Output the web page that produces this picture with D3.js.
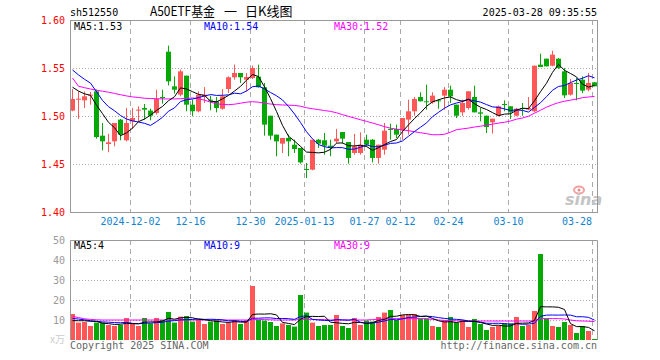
<!DOCTYPE html>
<html>
<head>
<meta charset="utf-8">
<script src="https://cdn.jsdelivr.net/npm/d3@7"></script>
<style>
  body { margin: 0; background: #fff; }
  text { font-family: "DejaVu Sans Mono", monospace; font-size: 10px; }
</style>
</head>
<body>
<script>
// Size of the whole picture
let width = 660;
let height = 360;

let svg = d3.select("body")
            .append("svg")
            .attr("width", width)
            .attr("height", height);

// Colors
let up_color = "#ff5757";
let down_color = "#06a806";
let border_color = "#999999";
let grid_color = "#aaaaaa";
let ma5_color = "#000000";
let ma10_color = "#0000ff";
let ma30_color = "#ff00ff";
let date_color = "#1283d0";

// Trading days
const dates = [
  "2024-11-18","2024-11-19","2024-11-20","2024-11-21","2024-11-22","2024-11-25","2024-11-26","2024-11-27","2024-11-28","2024-11-29",
  "2024-12-02","2024-12-03","2024-12-04","2024-12-05","2024-12-06","2024-12-09","2024-12-10","2024-12-11","2024-12-12","2024-12-13",
  "2024-12-16","2024-12-17","2024-12-18","2024-12-19","2024-12-20","2024-12-23","2024-12-24","2024-12-25","2024-12-26","2024-12-27",
  "2024-12-30","2024-12-31","2025-01-02","2025-01-03","2025-01-06","2025-01-07","2025-01-08","2025-01-09","2025-01-10","2025-01-13",
  "2025-01-14","2025-01-15","2025-01-16","2025-01-17","2025-01-20","2025-01-21","2025-01-22","2025-01-23","2025-01-24","2025-01-27",
  "2025-02-05","2025-02-06","2025-02-07","2025-02-10","2025-02-11","2025-02-12","2025-02-13","2025-02-14","2025-02-17","2025-02-18",
  "2025-02-19","2025-02-20","2025-02-21","2025-02-24","2025-02-25","2025-02-26","2025-02-27","2025-02-28","2025-03-03","2025-03-04",
  "2025-03-05","2025-03-06","2025-03-07","2025-03-10","2025-03-11","2025-03-12","2025-03-13","2025-03-14","2025-03-17","2025-03-18",
  "2025-03-19","2025-03-20","2025-03-21","2025-03-24","2025-03-25","2025-03-26","2025-03-27","2025-03-28"
];

const open = [
  1.5056,1.5170,1.5163,1.5212,1.5257,1.4795,1.4708,1.4736,1.4962,1.4747,
  1.4944,1.5059,1.5083,1.5056,1.5031,1.5198,1.5670,1.5309,1.5222,1.5420,
  1.5118,1.5049,1.5205,1.5170,1.5153,1.5076,1.5281,1.5403,1.5448,1.5378,
  1.5396,1.5410,1.5299,1.5003,1.4806,1.4712,1.4771,1.4701,1.4667,1.4448,
  1.4441,1.4753,1.4747,1.4691,1.4736,1.4833,1.4729,1.4615,1.4615,1.4753,
  1.4753,1.4563,1.4649,1.4865,1.4865,1.4851,1.4962,1.5049,1.5198,1.5153,
  1.5142,1.5163,1.5212,1.5274,1.5118,1.5038,1.5083,1.5198,1.5038,1.5003,
  1.4934,1.5003,1.5125,1.5101,1.5003,1.5083,1.5066,1.5049,1.5535,1.5597,
  1.5524,1.5597,1.5465,1.5222,1.5344,1.5378,1.5274,1.5351
];

const high = [
  1.5280,1.5257,1.5257,1.5250,1.5274,1.4927,1.4813,1.4927,1.4969,1.5083,
  1.5083,1.5101,1.5125,1.5076,1.5274,1.5274,1.5733,1.5413,1.5483,1.5420,
  1.5170,1.5257,1.5302,1.5212,1.5198,1.5281,1.5413,1.5535,1.5448,1.5448,
  1.5524,1.5535,1.5344,1.5003,1.4806,1.4771,1.4806,1.4753,1.4667,1.4510,
  1.4753,1.4760,1.4823,1.4753,1.4865,1.4833,1.4729,1.4813,1.4830,1.4806,
  1.4760,1.4701,1.4927,1.4920,1.4910,1.4979,1.5170,1.5198,1.5247,1.5326,
  1.5247,1.5177,1.5302,1.5316,1.5118,1.5170,1.5257,1.5316,1.5083,1.5003,
  1.4972,1.5108,1.5163,1.5101,1.5083,1.5135,1.5198,1.5524,1.5649,1.5597,
  1.5681,1.5604,1.5500,1.5385,1.5396,1.5413,1.5448,1.5351
];

const low = [
  1.5049,1.4969,1.5083,1.5118,1.4764,1.4642,1.4622,1.4684,1.4747,1.4736,
  1.4865,1.4944,1.4962,1.4955,1.5014,1.5128,1.5319,1.5233,1.5205,1.5049,
  1.4997,1.5038,1.5135,1.5059,1.5038,1.5066,1.5240,1.5378,1.5344,1.5257,
  1.5385,1.5295,1.4795,1.4753,1.4580,1.4615,1.4580,1.4615,1.4503,1.4354,
  1.4434,1.4667,1.4597,1.4580,1.4719,1.4712,1.4503,1.4597,1.4597,1.4677,
  1.4517,1.4503,1.4597,1.4753,1.4771,1.4753,1.4806,1.5003,1.5153,1.5066,
  1.5128,1.5076,1.5066,1.5135,1.4979,1.5003,1.5066,1.5038,1.4944,1.4823,
  1.4816,1.4997,1.5049,1.4969,1.4997,1.5003,1.5059,1.5038,1.5510,1.5517,
  1.5517,1.5490,1.5188,1.5212,1.5163,1.5240,1.5257,1.5309
];

const close = [
  1.5177,1.5180,1.5205,1.5222,1.4781,1.4736,1.4726,1.4927,1.4806,1.4927,
  1.4979,1.5066,1.5066,1.5003,1.5177,1.5188,1.5361,1.5274,1.5465,1.5118,
  1.5049,1.5222,1.5222,1.5160,1.5083,1.5205,1.5403,1.5448,1.5403,1.5406,
  1.5500,1.5299,1.4910,1.4795,1.4736,1.4771,1.4736,1.4656,1.4517,1.4441,
  1.4753,1.4712,1.4691,1.4667,1.4764,1.4764,1.4563,1.4684,1.4701,1.4701,
  1.4563,1.4701,1.4847,1.4858,1.4806,1.4979,1.5049,1.5177,1.5153,1.5146,
  1.5212,1.5156,1.5274,1.5205,1.5003,1.5135,1.5257,1.5038,1.5024,1.4885,
  1.4972,1.5101,1.5118,1.5038,1.5076,1.5073,1.5083,1.5524,1.5510,1.5517,
  1.5639,1.5500,1.5215,1.5344,1.5337,1.5264,1.5344,1.5309
];

// volume, in 10k
const volume = [
  13,8.7,9,7,8.7,8.7,7.5,7,7.5,11,
  8,7,11,8.3,11,10,14,8.7,11.7,12,
  9.2,10,8,9.2,10,8,8.7,10,8,10,
  27,10,9.7,9,7,8.3,7.5,6.7,22.5,13.7,
  8.7,7,7.5,7.5,12.5,7,6,11,7.5,9.7,
  9.2,11.5,13.7,15,10,12.5,12.5,13,10.8,10.8,
  7,6.5,10,11.5,8.7,10,6.5,10.5,8,5,
  6.5,7,8.3,8.3,11.5,7,7.5,14.5,43,10.8,
  7,6.5,9,7.5,3.5,7,4.5,0.5
];

// the days just before the window, needed for MA5 / MA10
const prior_close = [1.570,1.566,1.562,1.568,1.564,1.538,1.535,1.530,1.5293];
const prior_volume = [12,13,11,12,11.5,9,9,8.5,9];

// MA30
const ma30 = [
  1.5396,1.5310,1.5295,1.5281,1.5269,1.5258,1.5248,1.5235,1.5222,1.5209,
  1.5199,1.5193,1.5185,1.5182,1.5180,1.5178,1.5178,1.5178,1.5180,1.5184,
  1.5188,1.5180,1.5165,1.5144,1.5128,1.5120,1.5118,1.5123,1.5133,1.5144,
  1.5149,1.5144,1.5133,1.5125,1.5118,1.5115,1.5113,1.5110,1.5102,1.5086,
  1.5076,1.5066,1.5057,1.5048,1.5034,1.5014,1.4996,1.4979,1.4961,1.4944,
  1.4927,1.4909,1.4889,1.4873,1.4863,1.4855,1.4847,1.4836,1.4826,1.4816,
  1.4805,1.4805,1.4810,1.4831,1.4857,1.4866,1.4874,1.4885,1.4894,1.4904,
  1.4915,1.4926,1.4935,1.4948,1.4967,1.4979,1.4998,1.5029,1.5060,1.5092,
  1.5118,1.5139,1.5154,1.5165,1.5177,1.5191,1.5198,1.5204
];
const vol_ma30 = [
  11.8,11.2,10.6,10.3,10.1,10,10,10,10,10,
  10,10,10,10,10,10,10,10,10,10,
  10,10,10,10,10,10,10,10,10,10,
  10.2,10.2,10.2,10.1,10,10,10,10,10.3,10.4,
  10.3,10.2,10.2,10,10,10,10,10,10,10,
  10.2,10.4,10.6,10.7,10.7,10.7,10.7,10.7,10.7,10.6,
  10.3,10,9.8,9.7,9.6,9.5,9.5,9.5,9.5,9.5,
  9.5,9.5,9.5,9.5,9.5,9.5,9.5,9.6,10.7,10.7,
  10.7,10.7,10.5,10,9.6,9.5,9.4,9.2
];

const price_ticks = [1.60, 1.55, 1.50, 1.45, 1.40];
const volume_ticks = [50, 40, 30, 20, 10];
const tick_dates = ["2024-12-02","2024-12-16","2024-12-30","2025-01-13","2025-01-27","2025-02-12","2025-02-24","2025-03-10","2025-03-28"];
const tick_labels = ["2024-12-02","12-16","12-30","2025-01-13","01-27","02-12","02-24","03-10","03-28"];

function movingAvg(values, prior, n) {
  let all = prior.concat(values);
  return values.map((v, i) => d3.mean(all.slice(prior.length + i - n + 1, prior.length + i + 1)));
}

const ma5 = movingAvg(close, prior_close, 5);
const ma10 = movingAvg(close, prior_close, 10);
const vol_ma5 = movingAvg(volume, prior_volume, 5);
const vol_ma10 = movingAvg(volume, prior_volume, 10);

// Layout
const left = 70, right = 597;
const top_main = 20, bottom_main = 212;
const top_vol = 240, bottom_vol = 340;

const x = d3.scaleBand()
  .domain(dates)
  .range([left, left + 6 * dates.length]);

const y = d3.scaleLinear()
  .domain([1.40, 1.60])
  .range([bottom_main, top_main]);

const yv = d3.scaleLinear()
  .domain([0, 50])
  .range([bottom_vol, top_vol]);

const bar_w = x.bandwidth() - 1;
const cx = d => x(d) + bar_w / 2;
const isUp = i => close[i] >= open[i];

// Header
svg.append("text").attr("x", 70).attr("y", 16).text("sh512550");
let title = svg.append("g")
  .style("font-family", "'Noto Sans CJK SC', sans-serif")
  .style("font-size", "13px");
title.append("text").attr("x", 150).attr("y", 16).attr("textLength", 65).attr("lengthAdjust", "spacingAndGlyphs")
  .style("font-family", "inherit").style("font-size", "inherit").text("A50ETF基金");
title.append("text").attr("x", 224).attr("y", 16).style("font-family", "inherit").style("font-size", "inherit").text("一");
title.append("text").attr("x", 245).attr("y", 16).style("font-family", "inherit").style("font-size", "inherit").text("日K线图");
svg.append("text").attr("x", 597).attr("y", 16).attr("text-anchor", "end").text("2025-03-28 09:35:55");

// Grid lines for both panels
function drawGrid(g, yScale, ticks, y0, y1) {
  g.selectAll(".hgrid")
    .data(ticks.slice(1, -1))
    .enter().append("line")
    .attr("x1", left).attr("x2", right)
    .attr("y1", d => Math.round(yScale(d)) + 0.5)
    .attr("y2", d => Math.round(yScale(d)) + 0.5)
    .attr("stroke", grid_color)
    .attr("stroke-dasharray", "1,2");

  g.selectAll(".vgrid")
    .data(tick_dates)
    .enter().append("line")
    .attr("x1", d => x(d) + 0.5).attr("x2", d => x(d) + 0.5)
    .attr("y1", y0).attr("y2", y1)
    .attr("stroke", grid_color)
    .attr("stroke-dasharray", "5,4");
}

let main = svg.append("g").attr("id", "main");
drawGrid(main, y, price_ticks, top_main, bottom_main);

let vol = svg.append("g").attr("id", "volume");
drawGrid(vol, yv, volume_ticks.concat([0]), top_vol, bottom_vol);

// watermark
let logo = main.append("g");
logo.append("ellipse").attr("cx", 579).attr("cy", 190).attr("rx", 5).attr("ry", 3.5)
  .attr("fill", "none").attr("stroke", "#f2a0a0").attr("stroke-width", 2);
logo.append("circle").attr("cx", 579).attr("cy", 190).attr("r", 1.5).attr("fill", "#e88");
logo.append("text").attr("x", 565).attr("y", 205)
  .style("font-family", "'DejaVu Sans', sans-serif").style("font-size", "16px")
  .style("font-style", "italic").style("font-weight", "bold")
  .attr("fill", "#c4c4c4").text("sina");

// Candles
let idx = dates.map((d, i) => i);
main.selectAll(".wick")
  .data(idx)
  .enter().append("line")
  .attr("x1", i => cx(dates[i])).attr("x2", i => cx(dates[i]))
  .attr("y1", i => y(high[i])).attr("y2", i => y(low[i]))
  .attr("stroke", i => isUp(i) ? up_color : down_color);

main.selectAll(".body")
  .data(idx)
  .enter().append("rect")
  .attr("x", i => x(dates[i]))
  .attr("y", i => y(Math.max(open[i], close[i])))
  .attr("width", bar_w)
  .attr("height", i => Math.max(1, Math.abs(y(open[i]) - y(close[i]))))
  .attr("fill", i => isUp(i) ? up_color : down_color);

// MA lines
function drawLine(g, values, yScale, color) {
  g.append("path")
    .datum(values)
    .attr("fill", "none")
    .attr("stroke", color)
    .attr("stroke-width", 1)
    .attr("d", d3.line().x((v, i) => cx(dates[i])).y(v => yScale(v)));
}
drawLine(main, ma30, y, ma30_color);
drawLine(main, ma10, y, ma10_color);
drawLine(main, ma5, y, ma5_color);

// Volume bars
vol.selectAll(".vbar")
  .data(idx)
  .enter().append("rect")
  .attr("x", i => x(dates[i]))
  .attr("y", i => yv(volume[i]))
  .attr("width", bar_w)
  .attr("height", i => bottom_vol - yv(volume[i]))
  .attr("fill", i => isUp(i) ? up_color : down_color);

drawLine(vol, vol_ma30, yv, ma30_color);
drawLine(vol, vol_ma10, yv, ma10_color);
drawLine(vol, vol_ma5, yv, ma5_color);

// Borders
main.append("rect")
  .attr("x", left + 0.5).attr("y", top_main + 0.5)
  .attr("width", right - left).attr("height", bottom_main - top_main)
  .attr("fill", "none").attr("stroke", border_color);

vol.append("path")
  .attr("d", `M${left + 0.5},${bottom_vol}V${top_vol + 0.5}H${right + 0.5}V${bottom_vol}`)
  .attr("fill", "none").attr("stroke", border_color);

// Axis labels
svg.selectAll(".plabel")
  .data(price_ticks)
  .enter().append("text")
  .attr("x", 65).attr("y", d => y(d) + 4)
  .attr("text-anchor", "end")
  .attr("fill", "#ff0000")
  .text(d => d.toFixed(2));

svg.selectAll(".vlabel")
  .data(volume_ticks)
  .enter().append("text")
  .attr("x", 65).attr("y", d => yv(d) + 4)
  .attr("text-anchor", "end")
  .attr("fill", "#999999")
  .text(d => d);

svg.append("text").attr("x", 65).attr("y", 343).attr("text-anchor", "end")
  .style("font-family", "'Noto Sans CJK SC', sans-serif").style("font-size", "10px")
  .attr("fill", "#cccccc").text("x万");

svg.selectAll(".xlabel")
  .data(tick_dates)
  .enter().append("text")
  .attr("x", (d, i) => i == tick_dates.length - 1 ? x(d) : x(d) + 0.5)
  .attr("y", 225)
  .attr("text-anchor", (d, i) => i == tick_dates.length - 1 ? "end" : "middle")
  .attr("fill", date_color)
  .text((d, i) => tick_labels[i]);

// MA legends
const last = a => a[a.length - 1];
svg.append("text").attr("x", 74).attr("y", 30).attr("fill", ma5_color).text("MA5:" + last(ma5).toFixed(2));
svg.append("text").attr("x", 204).attr("y", 30).attr("fill", ma10_color).text("MA10:" + last(ma10).toFixed(2));
svg.append("text").attr("x", 334).attr("y", 30).attr("fill", ma30_color).text("MA30:" + last(ma30).toFixed(2));

svg.append("text").attr("x", 74).attr("y", 249).attr("fill", ma5_color).text("MA5:" + Math.floor(last(vol_ma5)));
svg.append("text").attr("x", 204).attr("y", 249).attr("fill", ma10_color).text("MA10:" + Math.floor(last(vol_ma10)));
svg.append("text").attr("x", 334).attr("y", 249).attr("fill", ma30_color).text("MA30:" + Math.floor(last(vol_ma30)));

// Footer
svg.append("text").attr("x", 70).attr("y", 349).attr("fill", "#666666").text("Copyright 2025 SINA.COM");
svg.append("text").attr("x", 597).attr("y", 349).attr("text-anchor", "end").attr("fill", "#666666").text("http://finance.sina.com.cn");
</script>
</body>
</html>
